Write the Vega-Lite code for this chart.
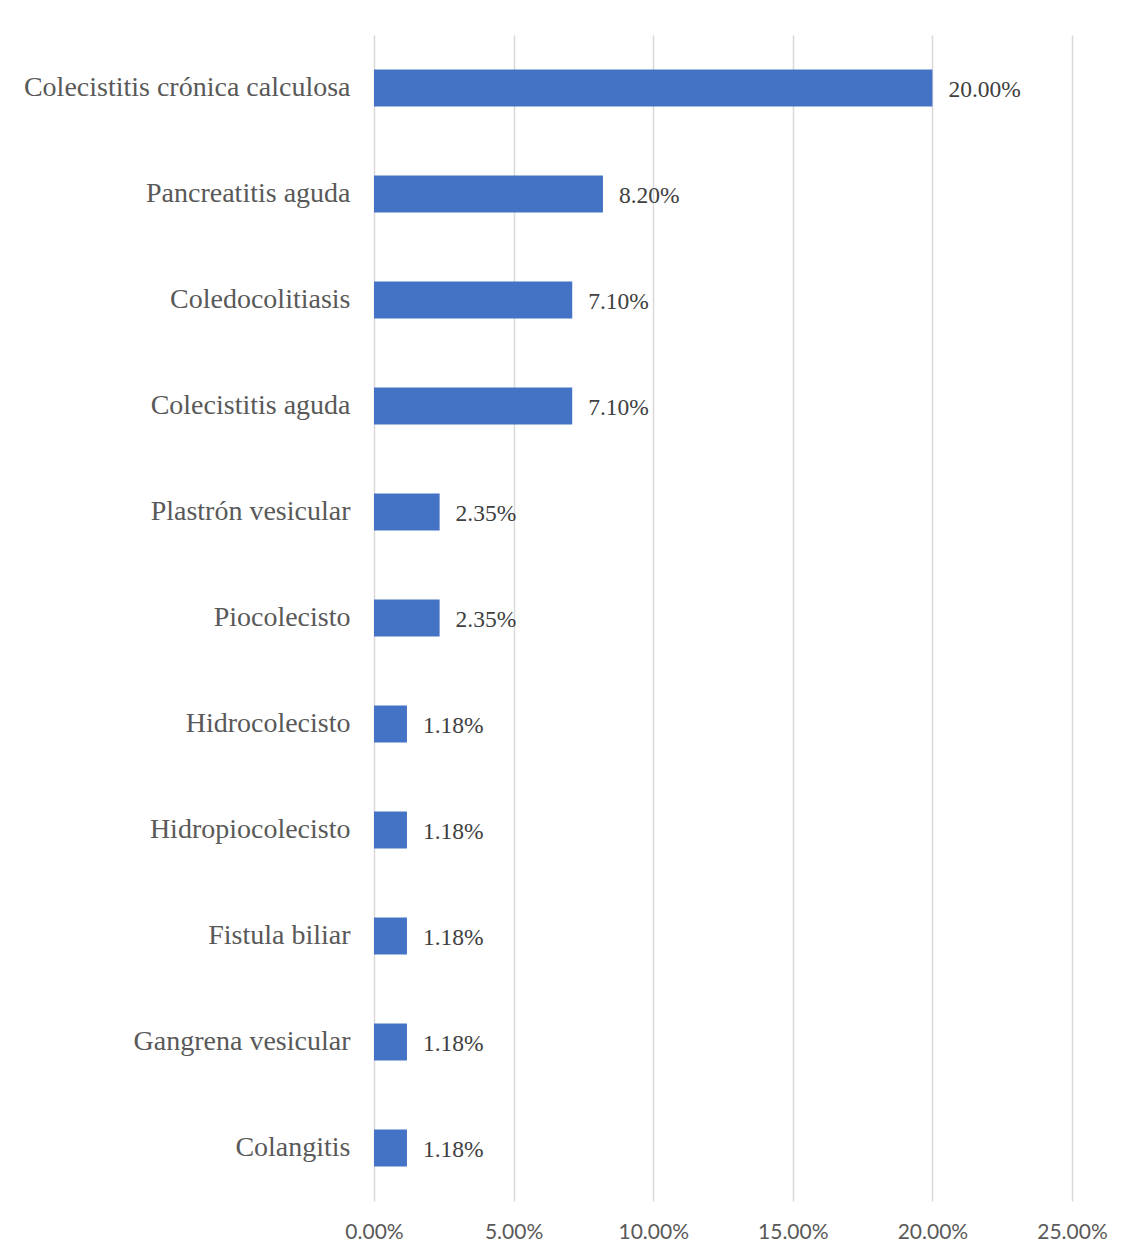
{
  "$schema": "https://vega.github.io/schema/vega-lite/v6.json",
  "autosize": "none",
  "width": 698,
  "height": 1166,
  "padding": {"left": 374, "top": 35, "right": 58, "bottom": 55},
  "background": "white",
  "data": {"values": [
    {"diagnostico": "Colecistitis crónica calculosa", "porcentaje": 0.20},
    {"diagnostico": "Pancreatitis aguda", "porcentaje": 0.082},
    {"diagnostico": "Coledocolitiasis", "porcentaje": 0.071},
    {"diagnostico": "Colecistitis aguda", "porcentaje": 0.071},
    {"diagnostico": "Plastrón vesicular", "porcentaje": 0.0235},
    {"diagnostico": "Piocolecisto", "porcentaje": 0.0235},
    {"diagnostico": "Hidrocolecisto", "porcentaje": 0.0118},
    {"diagnostico": "Hidropiocolecisto", "porcentaje": 0.0118},
    {"diagnostico": "Fistula biliar", "porcentaje": 0.0118},
    {"diagnostico": "Gangrena vesicular", "porcentaje": 0.0118},
    {"diagnostico": "Colangitis", "porcentaje": 0.0118}
  ]},
  "config": {"view": {"stroke": null}},
  "encoding": {
    "y": {
      "field": "diagnostico", "type": "nominal", "sort": null,
      "scale": {"paddingInner": 0.65, "paddingOuter": 0.325},
      "axis": {"title": null, "domain": false, "ticks": false, "labelFont": "Liberation Serif", "labelFontSize": 28, "labelColor": "#595959", "labelPadding": 24, "labelLimit": 400}
    },
    "x": {
      "field": "porcentaje", "type": "quantitative",
      "scale": {"domain": [0, 0.25], "nice": false},
      "axis": {"title": null, "format": ".2%", "values": [0, 0.05, 0.1, 0.15, 0.2, 0.25], "domain": false, "ticks": false, "grid": true, "gridColor": "#D9D9D9", "gridWidth": 1.5, "labelFlush": false, "labelFont": "Lato", "labelFontSize": 21, "labelColor": "#595959", "labelPadding": 20}
    }
  },
  "layer": [
    {"mark": {"type": "bar", "color": "#4472C4"}},
    {"mark": {"type": "text", "align": "left", "baseline": "middle", "dx": 16, "dy": 2, "font": "Liberation Serif", "fontSize": 23.5, "color": "#404040"},
     "encoding": {"text": {"field": "porcentaje", "type": "quantitative", "format": ".2%"}}}
  ]
}
